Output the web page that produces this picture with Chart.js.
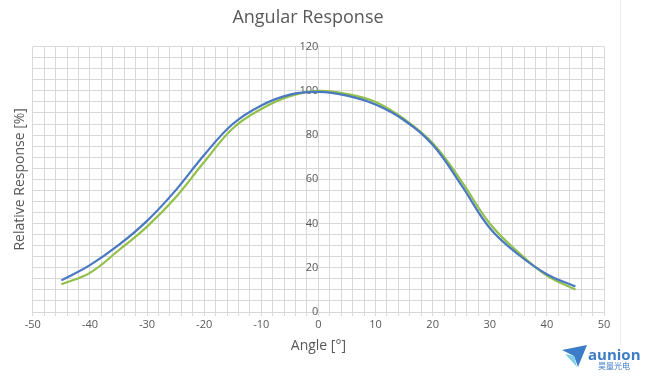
<!DOCTYPE html>
<html>
<head>
<meta charset="utf-8">
<script src="https://cdn.jsdelivr.net/npm/chart.js@4.4.1/dist/chart.umd.min.js"></script>
<style>
    html, body { margin: 0; padding: 0; background: #ffffff; }
    #contenitore { width: 650px; height: 378px; position: relative; }
</style>
</head>
<body>
<div id="contenitore"><canvas id="graficoAngolare"></canvas></div>
<script>
// dati
const angoli = [-45, -40, -35, -30, -25, -20, -15, -10, -5, 0, 5, 10, 15, 20, 25, 30, 35, 40, 45];
const rispostaBlu = [14.3, 21.2, 30.2, 41.2, 55.0, 71.0, 85.0, 93.4, 98.3, 99.5, 97.8, 93.8, 86.7, 75.6, 57.5, 38.0, 26.0, 17.1, 11.5];
const rispostaVerde = [12.5, 17.7, 27.8, 38.6, 51.8, 67.8, 83.0, 91.8, 97.6, 100.0, 98.6, 95.0, 87.3, 76.4, 59.3, 40.0, 27.0, 16.5, 10.2];
const etichetteX = [-50, -40, -30, -20, -10, 0, 10, 20, 30, 40, 50];
const etichetteY = [0, 20, 40, 60, 80, 100, 120];

const grigioTesto = '#595959';
const grigioGriglia = '#d9d9d9';

function punti(valori) {
    return angoli.map((a, i) => ({ x: a, y: valori[i] }));
}

// bordo pagina e logo in basso a destra
const pluginLogo = {
    id: 'logo',
    afterDraw(chart) {
        const ctx = chart.ctx;
        ctx.save();
        ctx.strokeStyle = '#ececec';
        ctx.lineWidth = 1;
        ctx.beginPath();
        ctx.moveTo(620.5, 0);
        ctx.lineTo(620.5, 345);
        ctx.stroke();

        ctx.fillStyle = '#3d7cc9';
        ctx.beginPath();
        ctx.moveTo(562, 350);
        ctx.lineTo(587, 345);
        ctx.lineTo(578, 367);
        ctx.lineTo(574, 356);
        ctx.closePath();
        ctx.fill();
        ctx.fillStyle = '#7fd0e6';
        ctx.beginPath();
        ctx.moveTo(565, 354);
        ctx.lineTo(574, 356);
        ctx.lineTo(577, 367);
        ctx.closePath();
        ctx.fill();

        ctx.fillStyle = '#3d7cc9';
        ctx.font = 'bold 15px "Open Sans", sans-serif';
        ctx.textBaseline = 'alphabetic';
        ctx.textAlign = 'left';
        ctx.fillText('aunion', 588, 360);
        ctx.font = '8px "Noto Sans CJK SC", sans-serif';
        ctx.fillText('昊量光电', 598, 369);
        ctx.restore();
    }
};

const ctx = document.getElementById('graficoAngolare').getContext('2d');
new Chart(ctx, {
    type: 'scatter',
    data: {
        datasets: [{
            label: 'Blu',
            data: punti(rispostaBlu),
            showLine: true,
            borderColor: '#4a78c2',
            borderWidth: 2.2,
            pointRadius: 0,
            tension: 0.4
        }, {
            label: 'Verde',
            data: punti(rispostaVerde),
            showLine: true,
            borderColor: '#92c04a',
            borderWidth: 2.2,
            pointRadius: 0,
            tension: 0.4
        }]
    },
    options: {
        responsive: true,
        maintainAspectRatio: false,
        animation: false,
        layout: {
            padding: { left: 12, right: 46, top: 4, bottom: 24 }
        },
        scales: {
            x: {
                type: 'linear',
                min: -50,
                max: 50,
                ticks: {
                    stepSize: 2,
                    autoSkip: false,
                    maxRotation: 0,
                    color: grigioTesto,
                    font: { family: '"Open Sans", sans-serif', size: 11 },
                    padding: 2,
                    callback: function(v) {
                        return etichetteX.includes(v) ? v : '';
                    }
                },
                grid: { color: grigioGriglia, tickLength: 4 },
                border: { color: grigioGriglia },
                title: {
                    display: true,
                    text: 'Angle [°]',
                    color: grigioTesto,
                    font: { family: '"Open Sans", sans-serif', size: 14 },
                    padding: { top: 4, bottom: 0 }
                }
            },
            y: {
                type: 'linear',
                position: { x: 0 },
                min: 0,
                max: 120,
                ticks: {
                    stepSize: 5,
                    autoSkip: false,
                    color: grigioTesto,
                    font: { family: '"Open Sans", sans-serif', size: 11 },
                    padding: 2,
                    callback: function(v) {
                        return etichetteY.includes(v) ? v : '';
                    }
                },
                grid: { color: grigioGriglia, tickLength: 4 },
                border: { color: grigioGriglia }
            },
            titoloY: {
                type: 'linear',
                position: 'left',
                min: 0,
                max: 120,
                ticks: { display: false },
                grid: { display: false, drawTicks: false },
                border: { display: false },
                title: {
                    display: true,
                    text: 'Relative Response [%]',
                    color: grigioTesto,
                    font: { family: '"Open Sans", sans-serif', size: 14 },
                    padding: { top: 0, bottom: 4 }
                }
            }
        },
        plugins: {
            legend: { display: false },
            tooltip: { enabled: false },
            title: {
                display: true,
                text: 'Angular Response',
                color: grigioTesto,
                font: { family: '"Open Sans", sans-serif', size: 18, weight: 'normal' },
                padding: { top: 3, bottom: 18 }
            }
        }
    },
    plugins: [pluginLogo]
});
</script>
</body>
</html>
